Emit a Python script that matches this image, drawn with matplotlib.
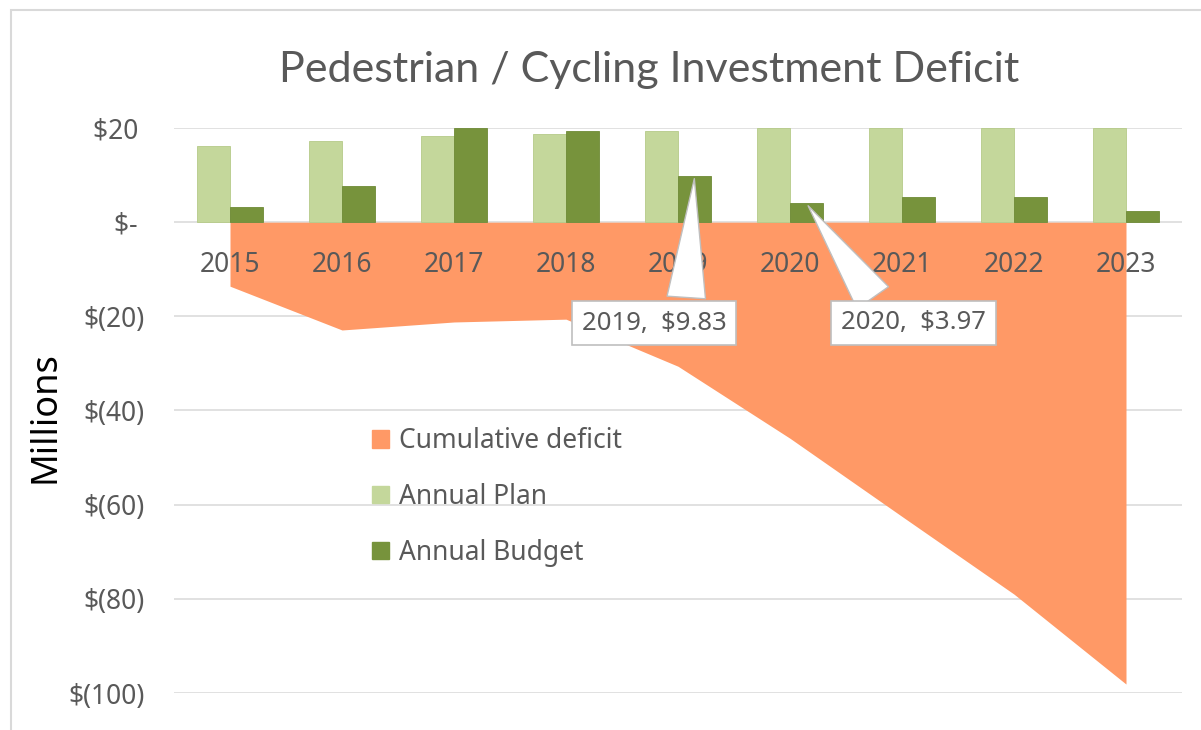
import matplotlib
matplotlib.use("Agg")
import matplotlib.pyplot as plt
from matplotlib.patches import Patch, Rectangle
import numpy as np

years = ["2015", "2016", "2017", "2018", "2019", "2020", "2021", "2022", "2023"]
annual_plan = [16.1, 17.2, 18.3, 18.7, 19.3, 20.0, 20.0, 20.0, 20.0]
annual_budget = [3.3, 7.6, 19.9, 19.3, 9.83, 3.97, 5.4, 5.4, 2.4]
cumulative_deficit = [-13.6, -22.9, -21.2, -20.6, -30.6, -45.9, -62.5, -79.0, -98.1]
y_ticks = [20, 0, -20, -40, -60, -80, -100]
y_tick_labels = ["$20 ", "$- ", "$(20)", "$(40)", "$(60)", "$(80)", "$(100)"]

plan_color = "#C4D79B"
budget_color = "#77933C"
deficit_color = "#FF9966"
text_color = "#595959"
grid_color = "#D9D9D9"

plt.rcParams["font.family"] = ["Noto Sans", "DejaVu Sans"]

fig = plt.figure(figsize=(12.01, 7.30), dpi=100)
ax = fig.add_axes([174 / 1201, 37 / 730, 1008 / 1201, 565 / 730])

x = np.arange(len(years))
bw = 0.295

ax.fill_between(x, cumulative_deficit, 0, color=deficit_color, lw=0, zorder=1)
ax.bar(x - bw / 2, annual_plan, bw, color=plan_color, edgecolor="#B5CA88", lw=0.6, zorder=2)
ax.bar(x + bw / 2, annual_budget, bw, color=budget_color, edgecolor="#6E8A36", lw=0.6, zorder=2)

ax.set_xlim(-0.5, len(years) - 0.5)
ax.set_ylim(-100, 20)
ax.set_axisbelow(True)
ax.grid(axis="y", color=grid_color, lw=1.1)
ax.set_yticks(y_ticks)
ax.set_yticklabels(y_tick_labels)
ax.set_xticks([])
ax.tick_params(axis="y", length=0, pad=21, labelsize=19, labelcolor=text_color)
for s in ax.spines.values():
    s.set_visible(False)

# year labels sit under the zero line, over the area
for i, yr in enumerate(years):
    ax.annotate(yr, xy=(i, 0), xytext=(0, -21), textcoords="offset points",
                ha="center", va="top", fontsize=19, color=text_color, zorder=4)

# callouts on the 2019 / 2020 budget bars
callouts = [(4, -29, -106, 0.715), (5, 77, -86, 0.28)]
for idx, dx, dy, rx in callouts:
    ax.annotate(f"{years[idx]},  ${annual_budget[idx]:.2f}",
                xy=(idx + bw / 2, annual_budget[idx]), xytext=(dx, dy),
                textcoords="offset points", ha="center", va="center",
                fontsize=18.5, color=text_color, zorder=6,
                bbox=dict(boxstyle="square,pad=0.38", fc="white", ec="#BFBFBF", lw=1.2),
                arrowprops=dict(arrowstyle="wedge,tail_width=1.5,shrink_factor=0.5",
                                relpos=(rx, 1.0), fc="white", ec="#BFBFBF", lw=1.0))

handles = [Patch(color=deficit_color), Patch(color=plan_color), Patch(color=budget_color)]
labels = ["Cumulative deficit", "Annual Plan", "Annual Budget"]
fig.legend(handles, labels, loc="upper left", bbox_to_anchor=(359 / 1201, 1 - 414 / 730),
           frameon=False, fontsize=19, handlelength=0.65, handleheight=0.65,
           handletextpad=0.35, labelspacing=1.05, borderpad=0, labelcolor=text_color)

fig.text(649 / 1201, 1 - 70 / 730, "Pedestrian / Cycling Investment Deficit",
         ha="center", va="center", fontsize=31, color=text_color, family=["Lato", "DejaVu Sans"])
fig.text(46 / 1201, 1 - 417 / 730, "Millions", rotation=90, ha="center", va="center",
         fontsize=26, color="black")

fig.add_artist(Rectangle((11 / 1201, -0.1), 1.2, 1.1 - 10 / 730, transform=fig.transFigure,
                         fill=False, ec=grid_color, lw=1.5))

fig.savefig("out.png", dpi=100)
